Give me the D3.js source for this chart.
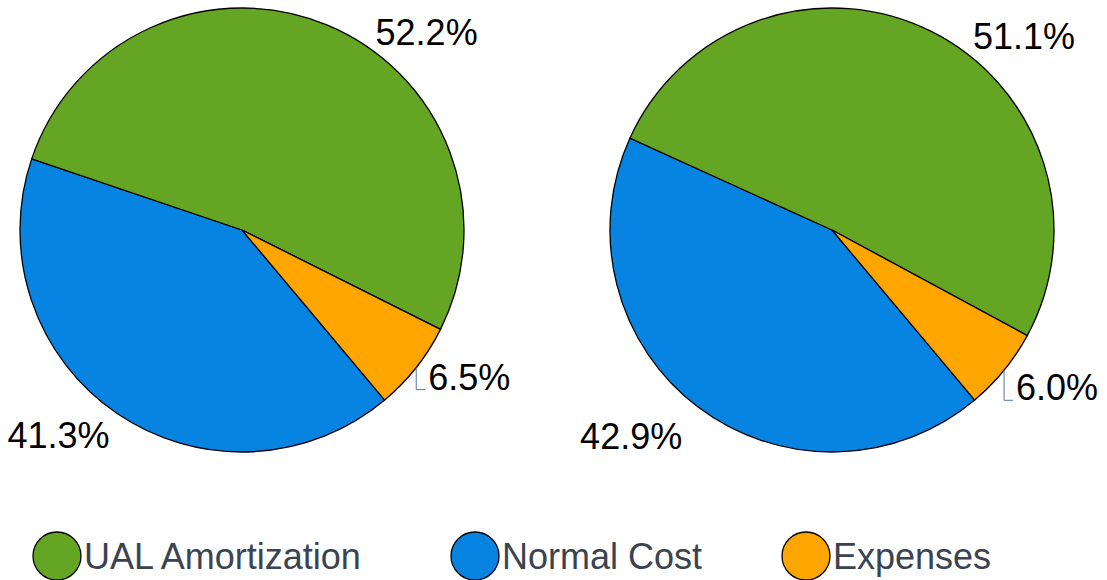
<!DOCTYPE html>
<html>
<head>
<meta charset="utf-8">
<script src="https://cdn.jsdelivr.net/npm/d3@7"></script>
<style>
  body { margin: 0; background: #ffffff; }
  svg { display: block; }
</style>
</head>
<body>
<div id="chart"></div>
<script>
// Two pies: contribution split, Normal Cost / UAL / Expenses
const categories = ["Normal Cost", "UAL Amortization", "Expenses"];
const leftValues = [41.3, 52.2, 6.5];
const rightValues = [42.9, 51.1, 6.0];
const legendOrder = ["UAL Amortization", "Normal Cost", "Expenses"];

const width = 1107;
const height = 580;
const radius = 222;
const fontFace = '"Liberation Sans", Arial, sans-serif';

const color = d3.scaleOrdinal()
  .domain(categories)
  .range(["#0784e2", "#65a524", "#ffa500"]);

const svg = d3.select("#chart")
  .append("svg")
  .attr("width", width)
  .attr("height", height);

const pie = d3.pie()
  .sort(null)
  .startAngle(140 * Math.PI / 180)
  .endAngle(500 * Math.PI / 180)
  .value(function(d) { return d; });

const arc = d3.arc().innerRadius(0).outerRadius(radius);

// place: per slice [angle offset from slice middle (deg), radius]; drop = leader length
function drawPie(cx, cy, values, place, drop) {
  const g = svg.append("g")
    .attr("transform", "translate(" + cx + "," + cy + ")");

  const arcs = pie(values);

  g.selectAll("path")
    .data(arcs)
    .join("path")
    .attr("d", arc)
    .attr("fill", function(d, i) { return color(categories[i]); })
    .attr("stroke", "#000000")
    .attr("stroke-width", 1.3)
    .attr("stroke-linejoin", "round");

  arcs.forEach(function(d, i) {
    const text = d3.format(".1f")(values[i]) + "%";
    const mid = (d.startAngle + d.endAngle) / 2;
    if (i === 2) {
      // small slice: label outside with a bracket leader
      const px = Math.sin(mid) * radius;
      const py = -Math.cos(mid) * radius;
      g.append("path")
        .attr("d", "M" + px + "," + py + "V" + (py + drop) + "h9")
        .attr("fill", "none")
        .attr("stroke", "#4f7aa3")
        .attr("stroke-width", 1);
      g.append("text")
        .attr("x", px + 12)
        .attr("y", py + drop)
        .attr("fill", "#000000")
        .attr("font-family", fontFace)
        .attr("font-size", 36)
        .text(text);
      return;
    }
    const a = mid + place[i][0] * Math.PI / 180;
    const r = place[i][1];
    g.append("text")
      .attr("x", Math.sin(a) * r)
      .attr("y", -Math.cos(a) * r)
      .attr("dy", "0.36em")
      .attr("text-anchor", "middle")
      .attr("fill", "#000000")
      .attr("font-family", fontFace)
      .attr("font-size", 36)
      .text(text);
  });
}

drawPie(242, 230, leftValues, [[7.5, 275], [20.3, 271]], 22);
drawPie(832, 230, rightValues, [[7.0, 288], [18.3, 273]], 30);

const legendX = { "UAL Amortization": 57, "Normal Cost": 475, "Expenses": 806 };

const item = svg.append("g")
  .selectAll("g")
  .data(legendOrder)
  .join("g")
  .attr("transform", function(d) { return "translate(" + legendX[d] + ",556)"; });

item.append("circle")
  .attr("r", 24)
  .attr("fill", function(d) { return color(d); })
  .attr("stroke", "#000000")
  .attr("stroke-width", 1.3);

item.append("text")
  .attr("x", 27)
  .attr("dy", "0.36em")
  .attr("fill", "#3b4350")
  .attr("font-family", fontFace)
  .attr("font-size", 36)
  .text(function(d) { return d; });
</script>
</body>
</html>
